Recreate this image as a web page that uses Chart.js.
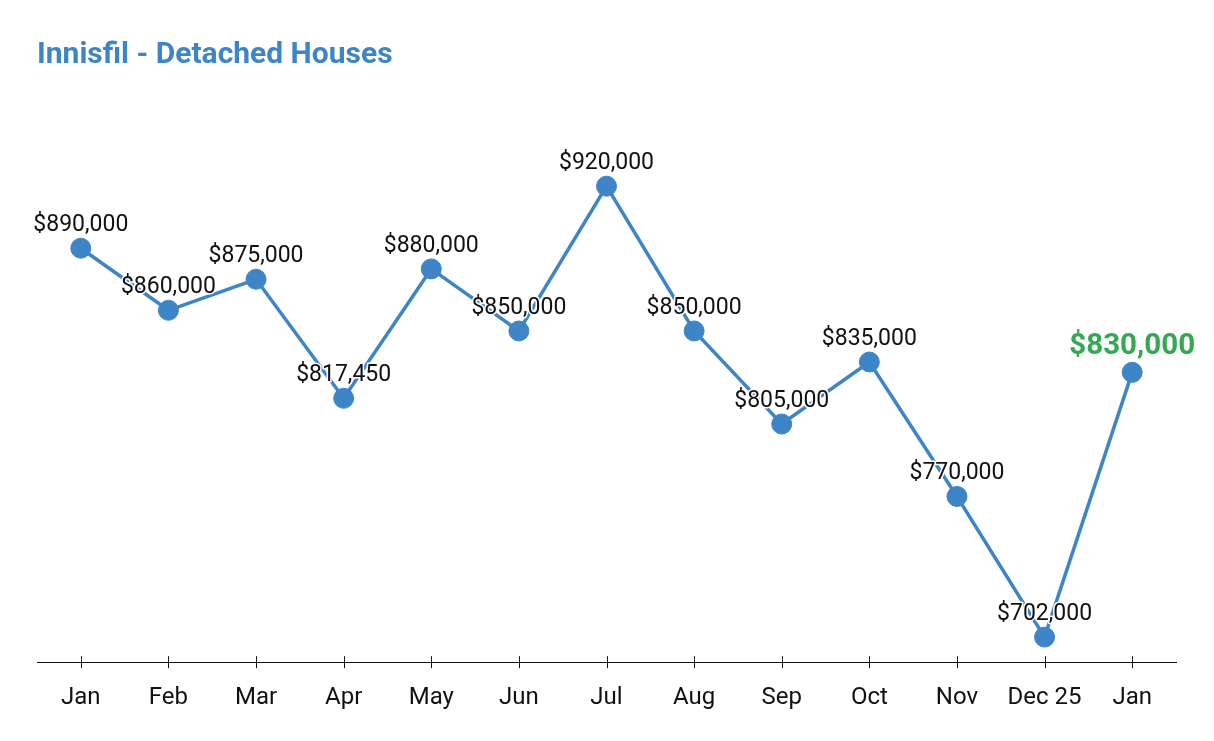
<!doctype html>
<html lang="en">
  <head>
    <meta charset="utf-8">
    <title>Innisfil - Detached Houses</title>
    <style>
      * { margin: 0; padding: 0; }
      body { background: #fff; }
      .chartBox { width: 1214px; height: 741px; }
    </style>
  </head>
  <body>
    <div class="chartBox"><canvas id="myChart"></canvas></div>
    <script src="https://cdn.jsdelivr.net/npm/chart.js/dist/chart.umd.min.js"></script>
    <script>
    // data
    const months = ['Jan', 'Feb', 'Mar', 'Apr', 'May', 'Jun', 'Jul', 'Aug', 'Sep', 'Oct', 'Nov', 'Dec 25', 'Jan'];
    const prices = [890000, 860000, 875000, 817450, 880000, 850000, 920000, 850000, 805000, 835000, 770000, 702000, 830000];

    const blue = 'rgb(61, 133, 198)';
    const green = 'rgb(52, 168, 83)';
    const fmt = v => '$' + v.toLocaleString('en-US');

    // ticks crossing the axis line
    const crossTicks = {
      id: 'crossTicks',
      afterDraw(chart) {
        const { ctx, scales: { x }, chartArea } = chart;
        ctx.save();
        ctx.strokeStyle = '#111';
        ctx.lineWidth = 1;
        x.ticks.forEach((t, i) => {
          const px = Math.round(x.getPixelForTick(i)) + 0.5;
          ctx.beginPath();
          ctx.moveTo(px, chartArea.bottom - 6);
          ctx.lineTo(px, chartArea.bottom + 6);
          ctx.stroke();
        });
        ctx.restore();
      }
    };

    // value labels above each point
    const valueLabels = {
      id: 'valueLabels',
      afterDatasetsDraw(chart) {
        const { ctx } = chart;
        const meta = chart.getDatasetMeta(0);
        const last = meta.data.length - 1;
        ctx.save();
        ctx.textAlign = 'center';
        ctx.textBaseline = 'middle';
        ctx.lineJoin = 'round';
        meta.data.forEach((pt, i) => {
          const isLast = i === last;
          ctx.font = isLast ? 'bold 29.5px Roboto' : '23px Roboto';
          const y = pt.y - (isLast ? 26 : 23);
          const txt = fmt(prices[i]);
          ctx.strokeStyle = '#fff';
          ctx.lineWidth = 3;
          ctx.strokeText(txt, pt.x, y);
          ctx.fillStyle = isLast ? green : '#111';
          ctx.fillText(txt, pt.x, y);
        });
        ctx.restore();
      }
    };

    const config = {
      type: 'line',
      data: {
        labels: months,
        datasets: [{
          data: prices,
          borderColor: blue,
          backgroundColor: blue,
          borderWidth: 3.5,
          pointRadius: 10,
          pointBorderWidth: 1,
          pointBorderColor: blue,
          pointBackgroundColor: blue,
          tension: 0
        }]
      },
      options: {
        responsive: true,
        maintainAspectRatio: false,
        animation: false,
        layout: { padding: { top: 37, left: 37, right: 38, bottom: 8 } },
        plugins: {
          legend: { display: false },
          tooltip: { enabled: false },
          title: {
            display: true,
            text: 'Innisfil - Detached Houses',
            align: 'start',
            color: blue,
            font: { family: 'Roboto', size: 30, weight: 'bold' },
            padding: { top: 0, bottom: 30 }
          }
        },
        scales: {
          x: {
            offset: true,
            grid: { display: true, drawOnChartArea: false, drawTicks: false },
            border: { display: true, color: '#111', width: 1 },
            ticks: {
              color: '#111',
              padding: 21,
              font: { family: 'Roboto', size: 24 }
            }
          },
          y: {
            display: false,
            min: 689864,
            max: 960213
          }
        }
      },
      plugins: [crossTicks, valueLabels]
    };

    const myChart = new Chart(document.getElementById('myChart'), config);
    </script>
  </body>
</html>
